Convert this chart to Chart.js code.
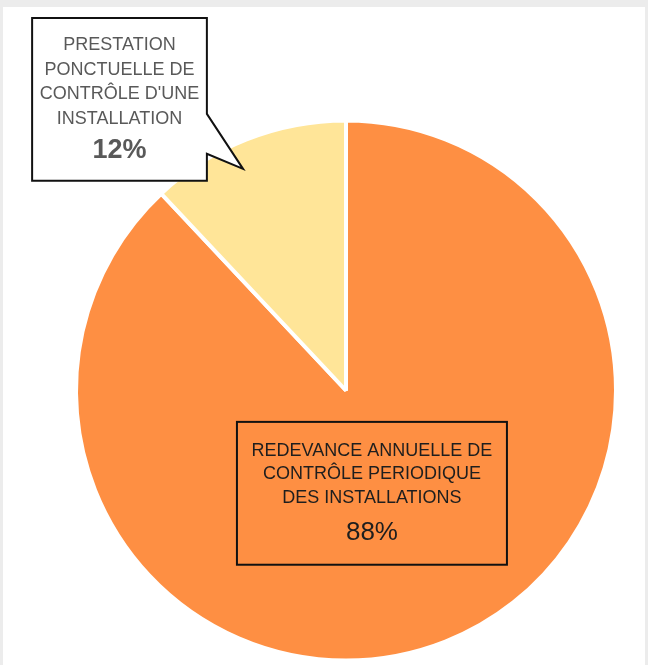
<!DOCTYPE html>
<html>
<head>
<meta charset="utf-8">
<script src="https://cdn.jsdelivr.net/npm/chart.js@4.4.1/dist/chart.umd.min.js"></script>
<style>
html, body { margin: 0; padding: 0; background: #fff; }
#cadre { position: relative; width: 648px; height: 665px; background: #fff; overflow: hidden; }
#cadre canvas { position: absolute; left: 0; top: 0; }
.bord { position: absolute; background: #ececec; }
</style>
</head>
<body>
<div id="cadre">
    <canvas id="camembert" width="648" height="665"></canvas>
    <div class="bord" style="left:0;top:0;width:648px;height:7px;"></div>
    <div class="bord" style="left:0;top:0;width:3px;height:665px;"></div>
    <div class="bord" style="right:0;top:0;width:3px;height:665px;"></div>
</div>
<script>
// Données du graphique (répartition des recettes)
const categories = [
    "REDEVANCE ANNUELLE DE CONTRÔLE PERIODIQUE DES INSTALLATIONS",
    "PRESTATION PONCTUELLE DE CONTRÔLE D'UNE INSTALLATION"
];
const valeurs = [88, 12];
const etiquettesLignes = [
    ["REDEVANCE ANNUELLE DE", "CONTRÔLE PERIODIQUE", "DES INSTALLATIONS"],
    ["PRESTATION", "PONCTUELLE DE", "CONTRÔLE D'UNE", "INSTALLATION"]
];
const etiquettesPourcent = ["88%", "12%"];
const couleurs = ["#fe8f43", "#ffe598"];

var police = "'Liberation Sans', Arial, sans-serif";

// Plugin pour dessiner les deux étiquettes encadrées
const pluginEtiquettes = {
    id: 'etiquettes',
    afterDatasetsDraw(chart) {
        var ctx = chart.ctx;
        var arcs = chart.getDatasetMeta(0).data;
        var cx = arcs[0].x, cy = arcs[0].y, r = 266;
        r = r * arcs[0].outerRadius / arcs[0].outerRadius; // rayon de référence

        ctx.save();
        ctx.lineWidth = 2;
        ctx.strokeStyle = "#111";
        ctx.textAlign = "center";
        ctx.textBaseline = "middle";

        // Étiquette de la grande part (rectangle simple)
        var x1 = cx - 0.41 * r, x2 = cx + 0.605 * r;
        var y1 = cy + 0.118 * r, y2 = cy + 0.655 * r;
        ctx.strokeRect(x1, y1, x2 - x1, y2 - y1);
        var mx = (x1 + x2) / 2;
        ctx.fillStyle = "#1e1e1e";
        ctx.font = "18px " + police;
        etiquettesLignes[0].forEach(function (ligne, i) {
            ctx.fillText(ligne, mx, y1 + 29 + i * 23.5);
        });
        ctx.font = "26px " + police;
        ctx.fillText(etiquettesPourcent[0], mx, y1 + 111);

        // Étiquette de la petite part (bulle avec pointe)
        var bx1 = cx - 1.18 * r, bx2 = cx - 0.523 * r;
        var by1 = cy - 1.40 * r, by2 = cy - 0.789 * r;
        ctx.beginPath();
        ctx.moveTo(bx1, by1);
        ctx.lineTo(bx2, by1);
        ctx.lineTo(bx2, cy - 1.04 * r);
        ctx.lineTo(cx - 0.387 * r, cy - 0.833 * r);
        ctx.lineTo(bx2, cy - 0.89 * r);
        ctx.lineTo(bx2, by2);
        ctx.lineTo(bx1, by2);
        ctx.closePath();
        ctx.fillStyle = "#fff";
        ctx.fill();
        ctx.stroke();
        var bmx = (bx1 + bx2) / 2;
        ctx.fillStyle = "#595959";
        ctx.font = "18px " + police;
        etiquettesLignes[1].forEach(function (ligne, i) {
            ctx.fillText(ligne, bmx, by1 + 27 + i * 24.5);
        });
        ctx.font = "bold 27px " + police;
        ctx.fillText(etiquettesPourcent[1], bmx, by1 + 132);
        ctx.restore();
    }
};

var ctx = document.getElementById("camembert").getContext("2d");
window.graphique = new Chart(ctx, {
    type: 'pie',
    data: {
        labels: categories,
        datasets: [{
            data: valeurs,
            backgroundColor: couleurs,
            borderColor: '#ffffff',
            borderWidth: 4
        }]
    },
    options: {
        responsive: false,
        animation: false,
        layout: {
            padding: { left: 74, right: 30, top: 118, bottom: 2 }
        },
        plugins: {
            legend: { display: false },
            tooltip: { enabled: false }
        }
    },
    plugins: [pluginEtiquettes]
});
</script>
</body>
</html>
